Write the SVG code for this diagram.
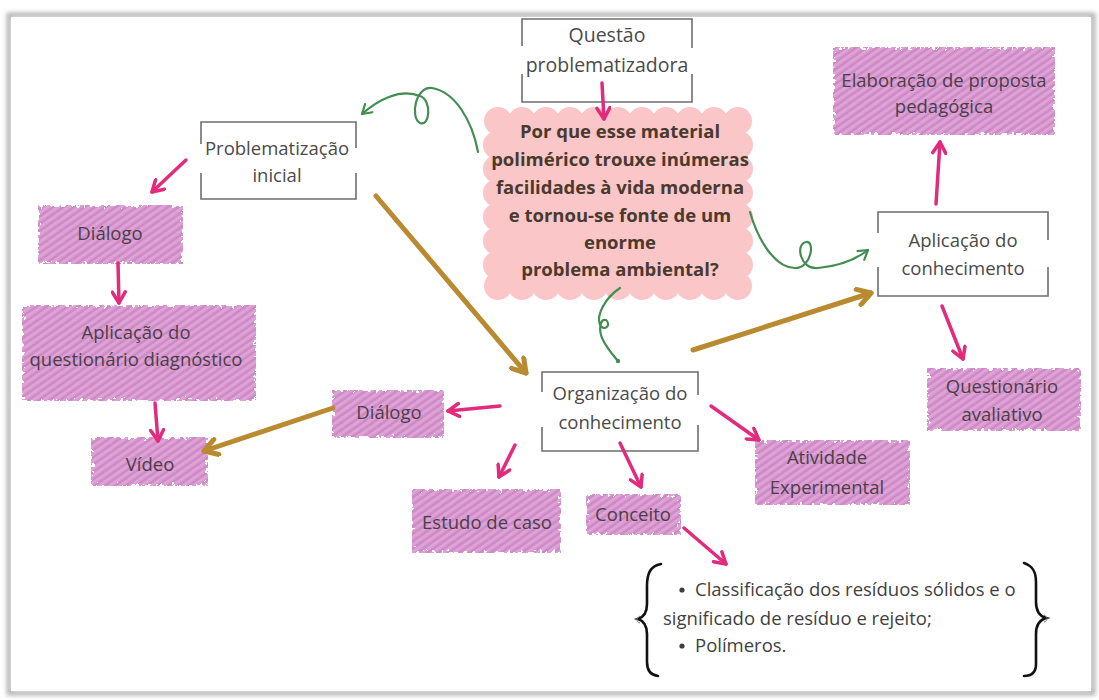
<svg xmlns="http://www.w3.org/2000/svg" width="1099" height="700" viewBox="0 0 1099 700">
<defs>
<style>
.t{font-family:"Open Sans","Liberation Sans",sans-serif;font-size:18.5px;fill:#4a4a4a;text-anchor:middle}
.tq{font-family:"Open Sans","Liberation Sans",sans-serif;font-size:19.5px;fill:#4a4a4a;text-anchor:middle}
.th{font-family:"Open Sans","Liberation Sans",sans-serif;font-size:18.5px;fill:#4b3f49;text-anchor:middle}
.tc{font-family:"Open Sans","Liberation Sans",sans-serif;font-size:18.5px;font-weight:bold;fill:#4a3a2e;text-anchor:middle}
.tl{font-family:"Open Sans","Liberation Sans",sans-serif;font-size:18.5px;fill:#3f3f3f}
.hb{fill:url(#hatch);filter:url(#rough)}
.bx{fill:none;stroke:#6e6e6e;stroke-width:1.6}
.pk{fill:none;stroke:#e22b7c;stroke-width:3.5;stroke-linecap:round;marker-end:url(#ap)}
.br{fill:none;stroke:#b98a30;stroke-width:5;stroke-linecap:round;marker-end:url(#ab)}
.gr{fill:none;stroke:#438c52;stroke-width:2.2;stroke-linecap:round}
.cl{fill:#fbc6c7}
.brace{fill:none;stroke:#111;stroke-width:2.6;stroke-linecap:round}
</style>
<pattern id="hatch" width="6" height="6" patternUnits="userSpaceOnUse" patternTransform="rotate(-35)">
<rect width="6" height="6" fill="#d99ad0"/>
<line x1="0" y1="2" x2="6" y2="2" stroke="#cc84c2" stroke-width="1.6"/>
<line x1="0" y1="4.8" x2="6" y2="4.8" stroke="#e3b0dc" stroke-width="0.9"/>
</pattern>
<filter id="rough" x="-8%" y="-20%" width="116%" height="140%">
<feTurbulence type="fractalNoise" baseFrequency="0.25" numOctaves="2" seed="7" result="n"/>
<feDisplacementMap in="SourceAlpha" in2="n" scale="14" xChannelSelector="R" yChannelSelector="G" result="m"/>
<feComposite in="SourceGraphic" in2="m" operator="in"/>
</filter>
<filter id="shadow" x="-2%" y="-2%" width="104%" height="104%">
<feGaussianBlur stdDeviation="2"/>
</filter>
<marker id="ap" viewBox="0 0 16 16" refX="13" refY="8" markerWidth="16" markerHeight="16" markerUnits="userSpaceOnUse" orient="auto">
<path d="M2,1.5 L13,8 L2,14.5" fill="none" stroke="#e22b7c" stroke-width="3.5" stroke-linecap="round" stroke-linejoin="round"/>
</marker>
<marker id="ab" viewBox="0 0 20 20" refX="16" refY="10" markerWidth="20" markerHeight="20" markerUnits="userSpaceOnUse" orient="auto">
<path d="M3,2 L16,10 L3,18" fill="none" stroke="#b98a30" stroke-width="5" stroke-linecap="round" stroke-linejoin="round"/>
</marker>
<marker id="ag" viewBox="0 0 14 14" refX="11" refY="7" markerWidth="14" markerHeight="14" markerUnits="userSpaceOnUse" orient="auto">
<path d="M2,1.5 L11,7 L2,12.5" fill="none" stroke="#438c52" stroke-width="2.2" stroke-linecap="round" stroke-linejoin="round"/>
</marker>
</defs>

<rect width="1099" height="700" fill="#ffffff"/>
<rect x="9" y="15" width="1084" height="678" fill="none" stroke="#b5b5b5" stroke-width="5" filter="url(#shadow)"/>
<rect x="11" y="17" width="1080" height="674" fill="#ffffff"/>

<g id="cloud">
<rect class="cl" x="497" y="121" width="242" height="165"/>
<g class="cl">
<circle cx="498" cy="121" r="14"/><circle cx="522" cy="121" r="14"/><circle cx="546" cy="121" r="14"/><circle cx="570" cy="121" r="14"/><circle cx="594" cy="121" r="14"/><circle cx="618" cy="121" r="14"/><circle cx="642" cy="121" r="14"/><circle cx="666" cy="121" r="14"/><circle cx="690" cy="121" r="14"/><circle cx="714" cy="121" r="14"/><circle cx="738" cy="121" r="14"/>
<circle cx="498" cy="286" r="14"/><circle cx="522" cy="286" r="14"/><circle cx="546" cy="286" r="14"/><circle cx="570" cy="286" r="14"/><circle cx="594" cy="286" r="14"/><circle cx="618" cy="286" r="14"/><circle cx="642" cy="286" r="14"/><circle cx="666" cy="286" r="14"/><circle cx="690" cy="286" r="14"/><circle cx="714" cy="286" r="14"/><circle cx="738" cy="286" r="14"/>
<circle cx="497" cy="145" r="14"/><circle cx="497" cy="169" r="14"/><circle cx="497" cy="193" r="14"/><circle cx="497" cy="217" r="14"/><circle cx="497" cy="241" r="14"/><circle cx="497" cy="265" r="14"/>
<circle cx="739" cy="145" r="14"/><circle cx="739" cy="169" r="14"/><circle cx="739" cy="193" r="14"/><circle cx="739" cy="217" r="14"/><circle cx="739" cy="241" r="14"/><circle cx="739" cy="265" r="14"/>
</g>
<text class="tc" x="620" y="138">Por que esse material</text>
<text class="tc" x="620" y="166">polimérico trouxe inúmeras</text>
<text class="tc" x="620" y="194">facilidades à vida moderna</text>
<text class="tc" x="620" y="222">e tornou-se fonte de um</text>
<text class="tc" x="620" y="249">enorme</text>
<text class="tc" x="620" y="276">problema ambiental?</text>
</g>

<g id="questao">
<path class="bx" d="M522,46 V19 H692 V48 M522,74 V102 H692 V74"/>
<text class="tq" x="607" y="42">Questão</text>
<text class="tq" x="607" y="72">problematizadora</text>
</g>

<g id="problematizacao">
<path class="bx" d="M201,144 V122 H356 V148 M201,173 V199 H356 V173"/>
<text class="t" x="277" y="155">Problematização</text>
<text class="t" x="277" y="182">inicial</text>
</g>

<g id="organizacao">
<path class="bx" d="M542,392 V372 H698 V395 M542,427 V451 H698 V425"/>
<text class="t" x="620" y="400">Organização do</text>
<text class="t" x="620" y="429">conhecimento</text>
</g>

<g id="aplicacao-conhecimento">
<path class="bx" d="M878,233 V212 H1048 V240 M878,267 V296 H1048 V267"/>
<text class="t" x="963" y="247">Aplicação do</text>
<text class="t" x="963" y="275">conhecimento</text>
</g>

<g id="dialogo1">
<rect class="hb" x="38" y="205" width="145" height="59"/>
<text class="th" x="110" y="240">Diálogo</text>
</g>

<g id="aplicacao-questionario">
<rect class="hb" x="22" y="305" width="234" height="96"/>
<text class="th" x="136" y="339">Aplicação do</text>
<text class="th" x="136" y="366">questionário diagnóstico</text>
</g>

<g id="video">
<rect class="hb" x="91" y="437" width="117" height="49"/>
<text class="th" x="150" y="471">Vídeo</text>
</g>

<g id="dialogo2">
<rect class="hb" x="332" y="390" width="112" height="48"/>
<text class="th" x="389" y="419">Diálogo</text>
</g>

<g id="estudo">
<rect class="hb" x="412" y="489" width="149" height="64"/>
<text class="th" x="487" y="529">Estudo de caso</text>
</g>

<g id="conceito">
<rect class="hb" x="586" y="494" width="95" height="41"/>
<text class="th" x="633" y="521">Conceito</text>
</g>

<g id="atividade">
<rect class="hb" x="755" y="440" width="155" height="65"/>
<text class="th" x="827" y="464">Atividade</text>
<text class="th" x="827" y="494">Experimental</text>
</g>

<g id="elaboracao">
<rect class="hb" x="833" y="47" width="222" height="88"/>
<text class="th" x="944" y="87">Elaboração de proposta</text>
<text class="th" x="944" y="113">pedagógica</text>
</g>

<g id="questionario-avaliativo">
<rect class="hb" x="927" y="368" width="154" height="63"/>
<text class="th" x="1002" y="393">Questionário</text>
<text class="th" x="1002" y="421">avaliativo</text>
</g>

<g id="conceitos-lista">
<path class="brace" d="M661,564 C650,566 647,574 647,586 L647,604 C647,612 644,617 638,619 C644,621 647,626 647,634 L647,662 C647,670 650,675 658,676"/>
<path d="M640,616 C636,618 636,622 640,623" fill="none" stroke="#777" stroke-width="1"/>
<path class="brace" d="M1024,563 C1033,566 1036,572 1036,582 L1036,602 C1036,610 1039,616 1046,618 C1039,620 1036,626 1036,634 L1036,664 C1036,672 1032,676 1024,676"/>
<path d="M1044,615 C1048,617 1048,621 1044,622" fill="none" stroke="#777" stroke-width="1"/>
<circle cx="682" cy="590" r="2.6" fill="#3f3f3f"/>
<text class="tl" x="695" y="596">Classificação dos resíduos sólidos e o</text>
<text class="tl" x="663" y="625">significado de resíduo e rejeito;</text>
<circle cx="682" cy="646" r="2.6" fill="#3f3f3f"/>
<text class="tl" x="695" y="652">Polímeros.</text>
</g>

<g id="connectors">
<line class="pk" x1="602" y1="83" x2="604" y2="119"/>
<line class="pk" x1="186" y1="160" x2="152" y2="192"/>
<line class="pk" x1="118" y1="263" x2="119" y2="303"/>
<line class="pk" x1="155" y1="403" x2="158" y2="441"/>
<line class="pk" x1="500" y1="406" x2="448" y2="411"/>
<line class="pk" x1="515" y1="445" x2="499" y2="477"/>
<line class="pk" x1="620" y1="443" x2="641" y2="487"/>
<line class="pk" x1="711" y1="406" x2="759" y2="440"/>
<line class="pk" x1="684" y1="528" x2="726" y2="564"/>
<line class="pk" x1="936" y1="204" x2="940" y2="142"/>
<line class="pk" x1="942" y1="306" x2="963" y2="359"/>
<line class="br" x1="376" y1="196" x2="526" y2="373"/>
<line class="br" x1="333" y1="408" x2="204" y2="451"/>
<line class="br" x1="693" y1="350" x2="871" y2="293"/>
<path class="gr" marker-end="url(#ag)" d="M478,152 C472,120 455,92 432,88 C415,86 410,118 420,123 C430,127 432,100 420,96 C400,88 378,100 362,114"/>
<path class="gr" marker-end="url(#ag)" d="M750,212 C758,240 775,268 795,268 C812,268 815,240 806,242 C795,244 800,270 818,268 C840,266 855,260 868,250"/>
<path class="gr" stroke-width="1.6" d="M620,288 C605,298 596,315 600,325 C604,332 612,325 606,320 C600,318 598,330 603,340 C608,350 614,356 618,361"/>
<circle cx="618" cy="361" r="2.2" fill="#438c52"/>
</g>
</svg>
